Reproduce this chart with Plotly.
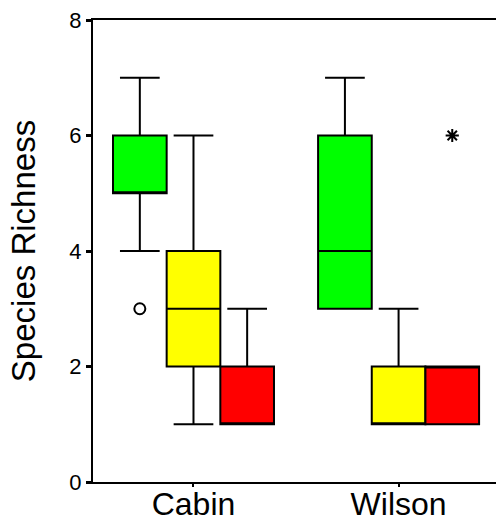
import plotly.graph_objects as go

# Sites on the category axis
sites = ["Cabin", "Wilson"]

# Five-number summaries per treatment (one value per site)
green_low = [4, 3]
green_q1 = [5, 3]
green_med = [5, 4]
green_q3 = [6, 6]
green_high = [7, 7]
green_outliers = [[3], []]

yellow_low = [1, 1]
yellow_q1 = [2, 1]
yellow_med = [3, 1]
yellow_q3 = [4, 2]
yellow_high = [6, 3]
yellow_outliers = [[], []]

red_low = [1, 1]
red_q1 = [1, 1]
red_med = [1, 2]
red_q3 = [2, 2]
red_high = [3, 2]
red_outliers = [[], [6]]

y_ticks = [0, 2, 4, 6, 8]

FONT = "Liberation Sans, Arial, sans-serif"


def box(name, low, q1, med, q3, high, pts, fill, symbol):
    has_pts = any(len(p) for p in pts)
    # list sites that carry outlier points first, so the per-box sample
    # arrays start with a non-empty entry; axis order is fixed separately
    order = sorted(range(len(sites)), key=lambda i: len(pts[i]) == 0)

    def pick(vals):
        return [vals[i] for i in order]

    return go.Box(
        name=name,
        x=pick(sites),
        y=pick(pts) if has_pts else None,
        lowerfence=pick(low),
        q1=pick(q1),
        median=pick(med),
        q3=pick(q3),
        upperfence=pick(high),
        fillcolor=fill,
        line=dict(color="black", width=2),
        whiskerwidth=0.74,
        boxpoints="outliers" if has_pts else False,
        pointpos=0,
        jitter=0,
        marker=dict(symbol=symbol, size=11, color="black",
                    line=dict(color="black", width=2)),
        offsetgroup=name,
        showlegend=False,
        hoverinfo="y",
    )


fig = go.Figure()
fig.add_trace(box("green", green_low, green_q1, green_med, green_q3, green_high,
                  green_outliers, "#00FF00", "circle-open"))
fig.add_trace(box("yellow", yellow_low, yellow_q1, yellow_med, yellow_q3, yellow_high,
                  yellow_outliers, "#FFFF00", "circle-open"))
fig.add_trace(box("red", red_low, red_q1, red_med, red_q3, red_high,
                  red_outliers, "#FF0000", "asterisk-open"))

fig.update_layout(
    width=496,
    height=522,
    margin=dict(l=93, r=0, t=20, b=40),
    paper_bgcolor="white",
    plot_bgcolor="white",
    boxmode="group",
    boxgap=0.215,
    boxgroupgap=0,
    font=dict(family=FONT, color="black"),
    xaxis=dict(
        type="category",
        categoryorder="array",
        categoryarray=sites,
        range=[-0.49, 1.475],
        automargin=False,
        showgrid=False,
        zeroline=False,
        showline=True,
        linecolor="black",
        linewidth=2,
        mirror=True,
        ticks="outside",
        ticklen=3,
        tickwidth=2,
        tickcolor="black",
        ticklabelstandoff=-10,
        tickfont=dict(size=32, family=FONT, color="black"),
    ),
    yaxis=dict(
        range=[0, 8],
        tickvals=y_ticks,
        automargin=False,
        showgrid=False,
        zeroline=False,
        showline=True,
        linecolor="black",
        linewidth=2,
        ticks="outside",
        ticklen=5,
        tickwidth=3,
        tickcolor="black",
        tickfont=dict(size=22, family=FONT, color="black"),
        title=dict(text="Species Richness", font=dict(size=33, family=FONT, color="black"),
                   standoff=24),
    ),
)

fig.write_html("out.html")
